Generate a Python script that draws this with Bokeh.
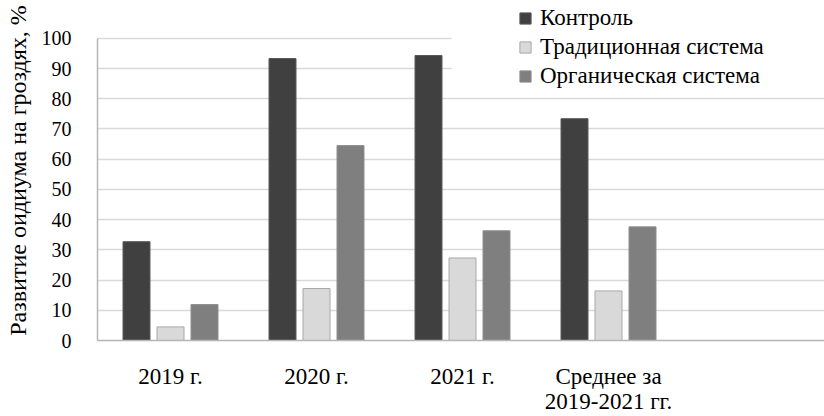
import numpy as np
from bokeh.plotting import figure
from bokeh.models import Range1d, FixedTicker, Legend, LegendItem, BoxAnnotation
from bokeh.embed import file_html
from bokeh.resources import INLINE

categories = ["2019 г.", "2020 г.", "2021 г.", "Среднее за\n2019-2021 гг."]
control = [32.7, 93.3, 94.3, 73.4]
traditional = [4.5, 17.2, 27.3, 16.4]
organic = [11.9, 64.5, 36.3, 37.6]
series_names = ["Контроль", "Традиционная система", "Органическая система"]
y_ticks = list(range(0, 101, 10))

FONT = "serif"
W, H = 824, 416
LEFT = 97
cat_px = 146.0
xmax = (W - LEFT) / cat_px

p = figure(width=W, height=H, output_backend="svg", toolbar_location=None,
           x_range=Range1d(0, xmax), y_range=Range1d(0, 112.5),
           min_border_left=LEFT, min_border_right=0, min_border_top=0, min_border_bottom=74)
p.outline_line_color = None
p.background_fill_color = "white"
p.border_fill_color = "white"

xc = np.arange(len(categories)) + 0.5
off = 34 / cat_px
bw = 27 / cat_px

r1 = p.vbar(x=xc - off, top=control, width=bw, fill_color="#404040", line_color="#5a5a5a", line_width=1)
r2 = p.vbar(x=xc, top=traditional, width=bw, fill_color="#d9d9d9", line_color="#a8a8a8", line_width=1)
r3 = p.vbar(x=xc + off, top=organic, width=bw, fill_color="#7f7f7f", line_color="#8f8f8f", line_width=1)

p.xgrid.visible = False
p.ygrid.ticker = FixedTicker(ticks=y_ticks)
p.ygrid.grid_line_color = "#d9d9d9"
p.ygrid.grid_line_width = 1.5

p.yaxis.ticker = FixedTicker(ticks=y_ticks)
p.yaxis.bounds = (0, 100)
p.yaxis.axis_line_color = "#b5b5b5"
p.yaxis.axis_line_width = 1.5
p.yaxis.major_tick_line_color = None
p.yaxis.minor_tick_line_color = None
p.yaxis.major_label_text_font = FONT
p.yaxis.major_label_text_font_size = "20px"
p.yaxis.major_label_text_color = "black"
p.yaxis.major_label_standoff = 20
p.yaxis.axis_label = "Развитие оидиума на гроздях, %"
p.yaxis.axis_label_text_font = FONT
p.yaxis.axis_label_text_font_size = "24px"
p.yaxis.axis_label_text_font_style = "normal"
p.yaxis.axis_label_text_color = "black"
p.yaxis.axis_label_standoff = 8

p.xaxis.ticker = FixedTicker(ticks=list(xc))
p.xaxis.major_label_overrides = {float(x): c for x, c in zip(xc, categories)}
p.xaxis.axis_line_color = "#b5b5b5"
p.xaxis.axis_line_width = 1.5
p.xaxis.major_tick_line_color = None
p.xaxis.minor_tick_line_color = None
p.xaxis.major_label_text_font = FONT
p.xaxis.major_label_text_font_size = "23px"
p.xaxis.major_label_text_color = "black"
p.xaxis.major_label_text_line_height = 1.0
p.xaxis.major_label_standoff = 17

p.add_layout(BoxAnnotation(left=(451 - LEFT) / cat_px, bottom=84.5, fill_color="white",
                           fill_alpha=1, line_color=None, level="underlay"))

legend = Legend(items=[LegendItem(label=series_names[0], renderers=[r1]),
                       LegendItem(label=series_names[1], renderers=[r2]),
                       LegendItem(label=series_names[2], renderers=[r3])],
                location=(421, 250), padding=0, margin=0, spacing=0,
                label_height=29, glyph_height=14, glyph_width=14, label_standoff=8,
                label_text_font=FONT, label_text_font_size="23px", label_text_color="black",
                background_fill_alpha=0, border_line_color=None)
p.add_layout(legend, "center")

open("out.html", "w").write(file_html(p, INLINE))
